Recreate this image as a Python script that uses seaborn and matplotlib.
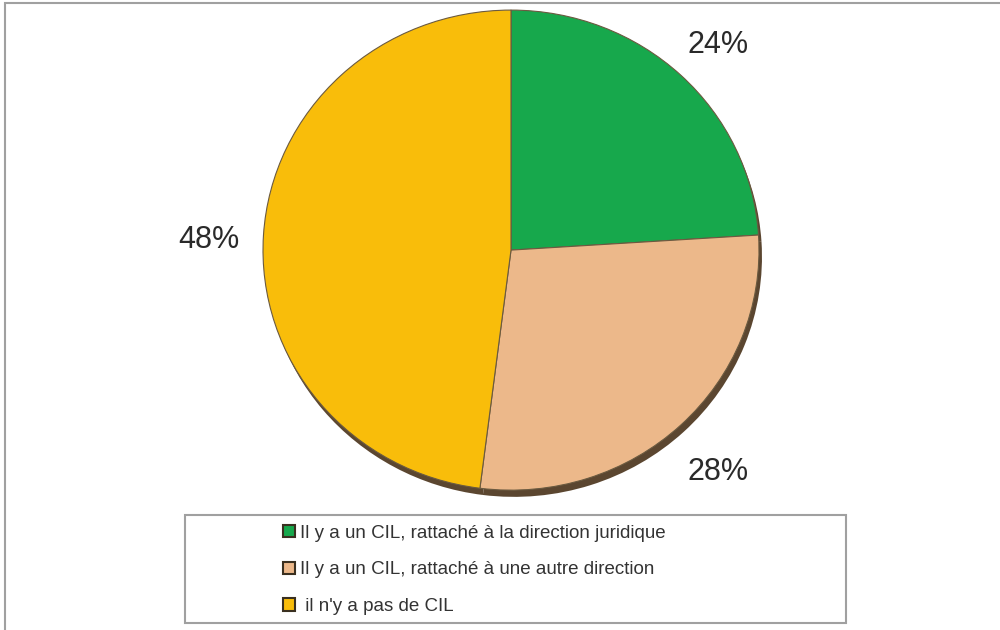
import matplotlib
matplotlib.use("Agg")
import matplotlib.pyplot as plt
import seaborn as sns
from matplotlib.patches import Rectangle

labels = [
    "Il y a un CIL, rattaché à la direction juridique",
    "Il y a un CIL, rattaché à une autre direction",
    " il n'y a pas de CIL",
]
values = [24, 28, 48]
colors = ["#17a84c", "#ecb88a", "#f9bd0a"]


def main():
    sns.set_style("white")
    plt.rcParams["font.family"] = ["Liberation Sans", "DejaVu Sans"]

    fig = plt.figure(figsize=(10, 6.3), dpi=100)
    ax = fig.add_axes([0.263, 0.222, 0.496, 0.762])

    # shadow / thickness under the pie
    ax.pie(values, colors=["#5b4630"] * 3, startangle=90, counterclock=False,
           center=(0.012, -0.028), radius=1.0,
           wedgeprops=dict(linewidth=0))

    wedges, _, pcts = ax.pie(
        values, colors=colors, startangle=90, counterclock=False,
        autopct="%d%%", pctdistance=1.22,
        wedgeprops=dict(edgecolor="#6b5a40", linewidth=0.8),
        textprops=dict(fontsize=22, color="#2a2a2a"),
    )
    ax.set_aspect("auto")
    ax.set_xlim(-1, 1)
    ax.set_ylim(-1, 1)
    # labels sit a little lower than the slice mid-angle in the original
    for t in pcts:
        x, y = t.get_position()
        t.set_position((x, y - 0.035))

    # outer frame and legend box
    fig.patches.append(Rectangle((0.005, -0.02), 1.2, 1.015, transform=fig.transFigure,
                                 fill=False, edgecolor="#a0a0a0", linewidth=1.5))
    fig.patches.append(Rectangle((0.185, 0.011), 0.661, 0.171, transform=fig.transFigure,
                                 fill=False, edgecolor="#a0a0a0", linewidth=1.5))

    leg = fig.legend(
        wedges, labels, loc="upper left", bbox_to_anchor=(0.277, 0.176),
        frameon=False, handlelength=0.65, handleheight=0.65, handletextpad=0.25,
        labelspacing=1.05, borderaxespad=0, borderpad=0.3,
        prop=dict(family=["Liberation Sans Narrow", "Liberation Sans"], size=13.5),
    )
    for h in leg.legend_handles:
        h.set_edgecolor("#3a3020")
        h.set_linewidth(1.5)
    for t in leg.get_texts():
        t.set_color("#333333")

    fig.savefig("out.png", dpi=100)


if __name__ == "__main__":
    main()
